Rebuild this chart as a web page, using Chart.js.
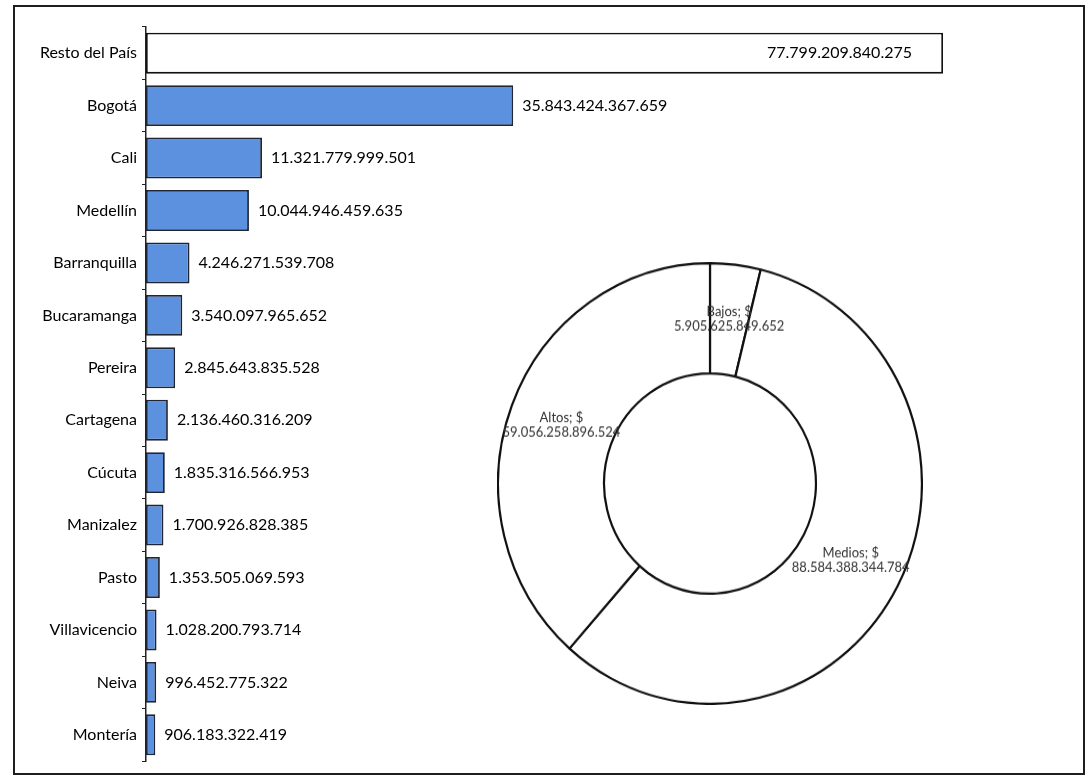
<!DOCTYPE html>
<html>
<head>
<meta charset="utf-8">
<script src="https://cdn.jsdelivr.net/npm/chart.js@4/dist/chart.umd.min.js"></script>
<style>
  body { margin: 0; background: #fff; }
  #wrap { position: relative; width: 1089px; height: 778px; overflow: hidden; }
  #frame { position: absolute; left: 13px; top: 5px; width: 1068px; height: 766px; border: 2px solid #1e1e1e; }
  #bars { position: absolute; left: 0; top: 0; }
  /* ring is slightly taller than wide */
  #rings { position: absolute; left: 497px; top: 262px; transform: scaleY(1.04); transform-origin: 0 0; }
</style>
</head>
<body>
<div id="wrap">
  <div id="frame"></div>
  <canvas id="bars" width="1089" height="778"></canvas>
  <canvas id="rings" width="426" height="426"></canvas>
</div>
<script>
"use strict";

// ========== DATA ========== //
const cities = [
  "Resto del País", "Bogotá", "Cali", "Medellín", "Barranquilla", "Bucaramanga",
  "Pereira", "Cartagena", "Cúcuta", "Manizalez", "Pasto", "Villavicencio", "Neiva", "Montería"
];
const cityValues = [
  77799209840275, 35843424367659, 11321779999501, 10044946459635, 4246271539708, 3540097965652,
  2845643835528, 2136460316209, 1835316566953, 1700926828385, 1353505069593, 1028200793714,
  996452775322, 906183322419
];
const strata = ["Bajos", "Medios", "Altos"];
const strataValues = [5905625849652, 88584388344784, 59056258896524];

const FONT = "Lato, 'Liberation Sans', sans-serif";
const BLUE = "#5b91de";

// 77.799.209.840.275 style thousands separator
function formatNumber(v) {
  return String(Math.round(v)).replace(/\B(?=(\d{3})+(?!\d))/g, ".");
}

// value labels at the end of each bar (first bar: inside, right aligned)
const barLabels = {
  id: "barLabels",
  afterDatasetsDraw(chart) {
    const ctx = chart.ctx;
    const meta = chart.getDatasetMeta(0);
    ctx.save();
    ctx.font = "16px " + FONT;
    ctx.fillStyle = "#000";
    ctx.textBaseline = "middle";
    meta.data.forEach((bar, i) => {
      const text = formatNumber(cityValues[i]);
      if (i === 0) {
        ctx.textAlign = "right";
        ctx.fillText(text, bar.x - 31, bar.y);
      } else {
        ctx.textAlign = "left";
        ctx.fillText(text, bar.x + 9, bar.y);
      }
    });
    ctx.restore();
  }
};

new Chart(document.querySelector("#bars"), {
  type: "bar",
  data: {
    labels: cities,
    datasets: [{
      data: cityValues,
      backgroundColor: cityValues.map((v, i) => i === 0 ? "#ffffff" : BLUE),
      borderColor: cityValues.map((v, i) => i === 0 ? "#111111" : "#1f2533"),
      borderWidth: 1.8,
      borderSkipped: false,
      categoryPercentage: 1,
      barPercentage: 0.78
    }]
  },
  options: {
    indexAxis: "y",
    responsive: false,
    animation: false,
    layout: { padding: { top: 27, bottom: 17, right: 21, left: 0 } },
    plugins: { legend: { display: false }, tooltip: { enabled: false } },
    scales: {
      x: { display: false, min: 0, max: 90e12 },
      y: {
        grid: { drawOnChartArea: false, drawTicks: true, tickLength: 4, color: "#222", offset: true },
        border: { color: "#222", width: 1.5 },
        ticks: { color: "#000", padding: 5, font: { family: FONT, size: 16 } },
        afterFit(scale) { scale.width = 146; }
      }
    }
  },
  plugins: [barLabels]
});

// "Name; $" + value written at the middle of each ring segment
const ringLabels = {
  id: "ringLabels",
  afterDatasetsDraw(chart) {
    const ctx = chart.ctx;
    const meta = chart.getDatasetMeta(0);
    ctx.save();
    ctx.font = "13px " + FONT;
    ctx.fillStyle = "#333";
    ctx.textAlign = "center";
    ctx.textBaseline = "middle";
    meta.data.forEach((arc, i) => {
      const p = arc.tooltipPosition();
      ctx.fillText(strata[i] + "; $", p.x, p.y - 7);
      ctx.fillText(formatNumber(strataValues[i]), p.x, p.y + 7);
    });
    ctx.restore();
  }
};

new Chart(document.querySelector("#rings"), {
  type: "doughnut",
  data: {
    labels: strata,
    datasets: [{
      data: strataValues,
      backgroundColor: "#ffffff",
      borderColor: "#111111",
      borderWidth: 2.2
    }]
  },
  options: {
    responsive: false,
    animation: false,
    cutout: "50%",
    plugins: { legend: { display: false }, tooltip: { enabled: false } }
  },
  plugins: [ringLabels]
});
</script>
</body>
</html>
